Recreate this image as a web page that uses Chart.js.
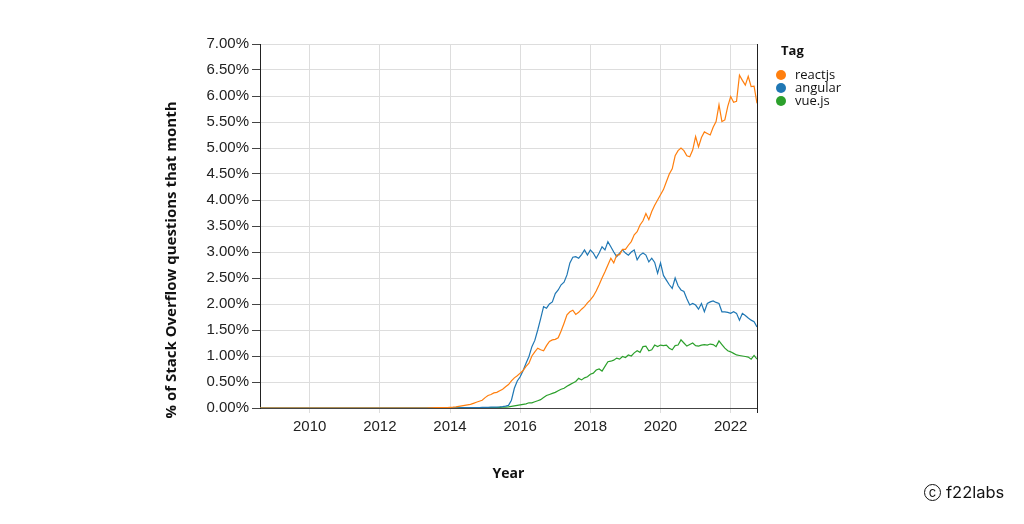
<!DOCTYPE html>
<html><head><meta charset="utf-8">
<script src="https://cdn.jsdelivr.net/npm/chart.js@4.4.0/dist/chart.umd.min.js"></script>
<style>
html,body{margin:0;padding:0;background:#fff;}
#wrap{position:relative;width:1024px;height:524px;overflow:hidden;}
canvas{position:absolute;left:0;top:0;}
#wm{position:absolute;left:924px;top:482px;height:20px;font-family:Inter,"Noto Sans",sans-serif;font-size:16.5px;color:#111;display:flex;align-items:center;}
#wm .c{display:inline-block;width:15px;height:15px;border:1.5px solid #111;border-radius:50%;font-size:13px;line-height:14px;text-align:center;margin-right:5px;}
</style></head><body>
<div id="wrap"><canvas id="c" width="1024" height="524"></canvas>
<div id="wm"><span class="c">c</span>f22labs</div></div>
<script>
// monthly series, first value = August 2008, last = October 2022 (percent)
const startYear = 2008, startMonth = 8;
const tags = ['reactjs', 'angular', 'vue.js'];
const tagColors = ['#ff7f0e', '#1f77b4', '#2ca02c'];
const yTicks = [0,0.5,1,1.5,2,2.5,3,3.5,4,4.5,5,5.5,6,6.5,7];
const xTicks = [2010, 2012, 2014, 2016, 2018, 2020, 2022];
const xTitle = 'Year';
const yTitle = '% of Stack Overflow questions that month';
const legendTitle = 'Tag';

const reactjs = [
  0,0,0,0,0,
  0,0,0,0,0,0,0,0,0,0,0,0,
  0,0,0,0,0,0,0,0,0,0,0,0,
  0,0,0,0,0,0,0,0,0,0,0,0,
  0,0,0,0,0,0,0,0,0,0,0,0,
  0,0,0,0,0,0.003,0.005,0.006,0.007,0.008,0.009,0.01,
  0.012,0.015,0.02,0.03,0.04,0.05,0.06,0.07,0.09,0.11,0.13,0.15,
  0.2,0.24,0.26,0.29,0.3,0.33,0.36,0.41,0.45,0.52,0.58,0.62,
  0.67,0.72,0.8,0.86,1.0,1.08,1.15,1.12,1.1,1.2,1.28,1.31,
  1.32,1.35,1.48,1.63,1.79,1.85,1.88,1.8,1.84,1.9,1.95,2.02,
  2.08,2.15,2.25,2.37,2.5,2.62,2.75,2.88,2.79,2.94,2.95,3.05,
  3.05,3.13,3.2,3.33,3.39,3.52,3.6,3.74,3.62,3.78,3.9,4.0,
  4.1,4.2,4.35,4.5,4.6,4.85,4.95,5.0,4.95,4.85,4.83,4.96,
  5.22,5.02,5.2,5.31,5.28,5.25,5.4,5.51,5.83,5.51,5.54,5.8,
  5.99,5.88,5.9,6.4,6.3,6.21,6.38,6.18,6.19,5.86
];
const angular = [
  0,0,0,0,0,
  0,0,0,0,0,0,0,0,0,0,0,0,
  0,0,0,0,0,0,0,0,0,0,0,0,
  0,0,0,0,0,0,0,0,0,0,0,0,
  0,0,0,0,0,0,0,0,0,0,0,0,
  0,0,0,0,0,0,0,0,0,0,0,0,
  0.003,0.004,0.005,0.005,0.006,0.007,0.008,0.008,0.009,0.01,0.01,0.011,
  0.012,0.013,0.015,0.016,0.018,0.02,0.025,0.035,0.05,0.15,0.38,0.52,
  0.6,0.72,0.86,0.99,1.18,1.3,1.5,1.72,1.95,1.92,2.0,2.04,
  2.2,2.27,2.37,2.42,2.56,2.79,2.9,2.91,2.88,2.95,3.04,2.94,
  3.04,2.98,2.88,2.98,3.1,3.04,3.2,3.1,3.0,2.91,2.98,3.04,
  2.98,2.94,3.0,3.04,2.85,2.94,2.98,2.94,2.81,2.88,2.8,2.59,
  2.79,2.55,2.46,2.37,2.3,2.5,2.35,2.27,2.24,2.1,1.98,2.01,
  1.98,1.9,2.01,1.85,2.01,2.04,2.06,2.03,2.01,1.85,1.85,1.84,
  1.82,1.85,1.82,1.69,1.82,1.78,1.73,1.69,1.66,1.56
];
const vuejs = [
  0,0,0,0,0,
  0,0,0,0,0,0,0,0,0,0,0,0,
  0,0,0,0,0,0,0,0,0,0,0,0,
  0,0,0,0,0,0,0,0,0,0,0,0,
  0,0,0,0,0,0,0,0,0,0,0,0,
  0,0,0,0,0,0,0,0,0,0,0,0,
  0,0,0.001,0.001,0.002,0.002,0.003,0.003,0.004,0.004,0.005,0.005,
  0.006,0.007,0.008,0.009,0.01,0.012,0.014,0.016,0.02,0.03,0.04,0.05,
  0.06,0.07,0.08,0.1,0.1,0.12,0.14,0.16,0.2,0.24,0.26,0.28,
  0.3,0.33,0.36,0.38,0.42,0.45,0.48,0.51,0.57,0.54,0.58,0.6,
  0.65,0.67,0.73,0.75,0.71,0.8,0.89,0.9,0.92,0.96,0.94,0.99,
  0.97,1.02,1.0,1.06,1.1,1.07,1.18,1.19,1.1,1.12,1.21,1.18,
  1.21,1.2,1.21,1.15,1.12,1.2,1.21,1.31,1.25,1.19,1.22,1.25,
  1.2,1.19,1.21,1.22,1.21,1.23,1.22,1.18,1.29,1.22,1.15,1.1,
  1.08,1.05,1.02,1.01,1.0,0.99,0.98,0.94,1.01,0.94
];
const seriesValues = [reactjs, angular, vuejs];

const toPoints = vals => vals.map((v, i) => ({ x: startYear + (startMonth - 1 + i) / 12, y: v }));
const datasets = tags.map((t, k) => ({
  label: t, data: toPoints(seriesValues[k]), borderColor: tagColors[k],
  borderWidth: 1.2, pointRadius: 0, tension: 0, fill: false
}));
const xMin = startYear + (startMonth - 1) / 12;
const xMax = startYear + (startMonth - 1 + reactjs.length - 1) / 12;

const decor = {
  id: 'decor',
  afterDraw(chart) {
    const { ctx, chartArea: a } = chart;
    ctx.save();
    ctx.strokeStyle = '#222'; ctx.lineWidth = 1;
    const rx = Math.round(a.right) + 0.5;
    ctx.beginPath(); ctx.moveTo(rx, a.top); ctx.lineTo(rx, a.bottom + 5); ctx.stroke();
    ctx.fillStyle = '#111';
    ctx.font = 'bold 14px "Open Sans"';
    ctx.textAlign = 'center'; ctx.textBaseline = 'middle';
    ctx.fillText(xTitle, (a.left + a.right) / 2, 474);
    ctx.save();
    ctx.font = 'bold 15px "Open Sans"';
    ctx.translate(172, 260); ctx.rotate(-Math.PI / 2);
    ctx.fillText(yTitle, 0, 0);
    ctx.restore();
    // legend
    ctx.textAlign = 'left';
    ctx.font = 'bold 13px "Open Sans"';
    ctx.fillText(legendTitle, 781, 51);
    ctx.font = '13px "Open Sans"';
    tags.forEach((t, k) => {
      const y = 75 + k * 13;
      ctx.fillStyle = tagColors[k];
      ctx.beginPath(); ctx.arc(781, y, 5, 0, Math.PI * 2); ctx.fill();
      ctx.fillStyle = '#111';
      ctx.fillText(t, 795, y);
    });
    ctx.restore();
  }
};

new Chart(document.getElementById('c'), {
  type: 'line',
  data: { datasets },
  plugins: [decor],
  options: {
    responsive: false, animation: false,
    layout: { padding: { left: 200, right: 1024 - 757, top: 44, bottom: 524 - 408 - 40 } },
    plugins: { legend: { display: false }, tooltip: { enabled: false } },
    scales: {
      x: {
        type: 'linear', min: xMin, max: xMax,
        afterFit(s) { s.height = 40; },
        afterBuildTicks(s) { s.ticks = xTicks.map(v => ({ value: v })); },
        grid: { color: '#ddd', lineWidth: 1, tickLength: 5, tickColor: '#ddd' },
        border: { color: '#444', width: 1 },
        ticks: { color: '#222', font: { family: '"Liberation Sans"', size: 15 }, padding: 5, maxRotation: 0,
          callback: v => String(v) }
      },
      y: {
        min: 0, max: 7,
        afterFit(s) { s.width = 60; },
        afterBuildTicks(s) { s.ticks = yTicks.map(v => ({ value: v })); },
        grid: { color: '#ddd', lineWidth: 1, tickLength: 8, tickColor: '#444' },
        border: { color: '#222', width: 1 },
        ticks: { color: '#222', font: { family: '"Liberation Sans"', size: 15 }, padding: 3,
          callback: v => Number(v).toFixed(2) + '%' }
      }
    }
  }
});
</script>
</body></html>
